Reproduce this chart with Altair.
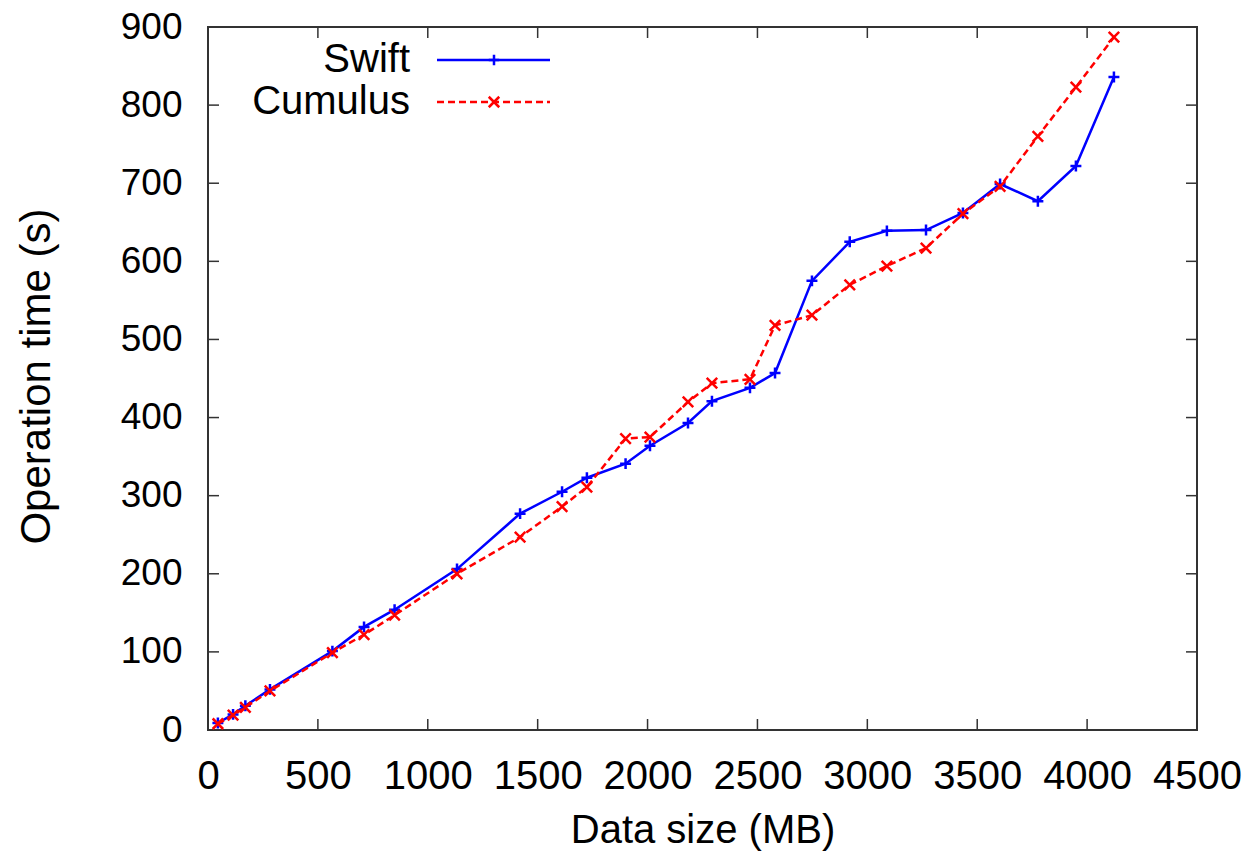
import altair as alt
import pandas as pd

# ---- data ----
data_size_mb = [45, 114, 170, 282, 566, 710, 849, 1133, 1420, 1611, 1724, 1900, 2011,
                2184, 2293, 2466, 2580, 2748, 2920, 3089, 3267, 3435, 3604, 3776, 3949, 4122]
swift_time = [9, 20, 31, 52, 101, 132, 154, 206, 277, 305, 323, 341, 364,
              393, 421, 438, 457, 575, 625, 639, 640, 662, 699, 677, 722, 836]
cumulus_time = [8, 19, 29, 50, 99, 122, 147, 200, 247, 286, 311, 373, 375,
                420, 444, 449, 518, 531, 570, 594, 617, 661, 696, 760, 823, 887]
x_tick_values = [0, 500, 1000, 1500, 2000, 2500, 3000, 3500, 4000, 4500]
y_tick_values = [0, 100, 200, 300, 400, 500, 600, 700, 800, 900]
series_names = ["Swift", "Cumulus"]
series_colors = ["#0000ff", "#ff0000"]

W, H = 989, 703
FONT = "Liberation Sans"
PLUS = "M-1,0L1,0M0,-1L0,1"
CROSS = "M-1,-1L1,1M-1,1L1,-1"
TICK = 11
LW = 2.5

swift_df = pd.DataFrame({"x": data_size_mb, "y": swift_time})
cum_df = pd.DataFrame({"x": data_size_mb, "y": cumulus_time})
xt_df = pd.DataFrame({"x": x_tick_values})
yt_df = pd.DataFrame({"y": y_tick_values})
one = pd.DataFrame({"k": [0]})

xscale = alt.Scale(domain=[0, 4500], nice=False, zero=False)
yscale = alt.Scale(domain=[0, 900], nice=False, zero=False)

xaxis = alt.Axis(values=x_tick_values, domain=False, ticks=False, grid=False,
                 labelFont=FONT, labelFontSize=40, labelColor="black", labelPadding=26,
                 labelFlush=False, labelOverlap=False, format="d",
                 titleFont=FONT, titleFontSize=40, titleFontWeight="normal", titleColor="black",
                 titleY=112, titleBaseline="alphabetic")
yaxis = alt.Axis(values=y_tick_values, domain=False, ticks=False, grid=False,
                 labelFont=FONT, labelFontSize=37, labelColor="black", labelPadding=26,
                 labelFlush=False, labelOverlap=False, format="d",
                 titleFont=FONT, titleFontSize=42, titleFontWeight="normal", titleColor="black",
                 titleAngle=270, titleX=-159, titleY=349, titleAlign="center",
                 titleBaseline="alphabetic")

def X(field="x"):
    return alt.X(f"{field}:Q", scale=xscale, axis=xaxis, title="Data size (MB)")

def Y(field="y"):
    return alt.Y(f"{field}:Q", scale=yscale, axis=yaxis, title="Operation time (s)")

swift_line = alt.Chart(swift_df).mark_line(color=series_colors[0], strokeWidth=LW).encode(x=X(), y=Y())
swift_pts = alt.Chart(swift_df).mark_point(shape=PLUS, size=120, filled=False, opacity=1,
                                           color=series_colors[0], strokeWidth=LW).encode(x=X(), y=Y())
cum_line = alt.Chart(cum_df).mark_line(color=series_colors[1], strokeWidth=LW,
                                       strokeDash=[7, 4]).encode(x=X(), y=Y())
cum_pts = alt.Chart(cum_df).mark_point(shape=CROSS, size=110, filled=False, opacity=1,
                                       color=series_colors[1], strokeWidth=LW).encode(x=X(), y=Y())

tick_style = dict(color="#333333", strokeWidth=1.5)
xt_bottom = alt.Chart(xt_df).mark_rule(**tick_style).encode(x=X(), y=alt.value(H), y2=alt.value(H - TICK))
xt_top = alt.Chart(xt_df).mark_rule(**tick_style).encode(x=X(), y=alt.value(0), y2=alt.value(TICK))
yt_left = alt.Chart(yt_df).mark_rule(**tick_style).encode(y=Y(), x=alt.value(0), x2=alt.value(TICK))
yt_right = alt.Chart(yt_df).mark_rule(**tick_style).encode(y=Y(), x=alt.value(W), x2=alt.value(W - TICK))

# ---- gnuplot-style key (label left, sample right) ----
key_layers = []
key_rows = [33, 75]
for name, col, yy, shape, dash in zip(series_names, series_colors, key_rows,
                                      [PLUS, CROSS], [None, [7, 4]]):
    key_layers.append(alt.Chart(one).mark_text(text=name, align="right", baseline="middle",
                                               font=FONT, fontSize=40, color="black")
                      .encode(x=alt.value(202), y=alt.value(yy)))
    rule_kw = dict(color=col, strokeWidth=LW)
    if dash:
        rule_kw["strokeDash"] = dash
    key_layers.append(alt.Chart(one).mark_rule(**rule_kw)
                      .encode(x=alt.value(229), x2=alt.value(342), y=alt.value(yy)))
    key_layers.append(alt.Chart(one).mark_point(shape=shape, size=110, filled=False, opacity=1,
                                                color=col, strokeWidth=LW)
                      .encode(x=alt.value(286), y=alt.value(yy)))

chart = alt.layer(
    xt_bottom, xt_top, yt_left, yt_right,
    swift_line, swift_pts, cum_line, cum_pts,
    *key_layers
).properties(
    width=W, height=H,
    autosize=alt.AutoSizeParams(type="none"),
    padding={"left": 200, "top": 19, "right": 46, "bottom": 121},
    background="white",
).configure_view(stroke="#333333", strokeWidth=2)

chart.save("out.html", embed_options={"renderer": "svg", "actions": False})
